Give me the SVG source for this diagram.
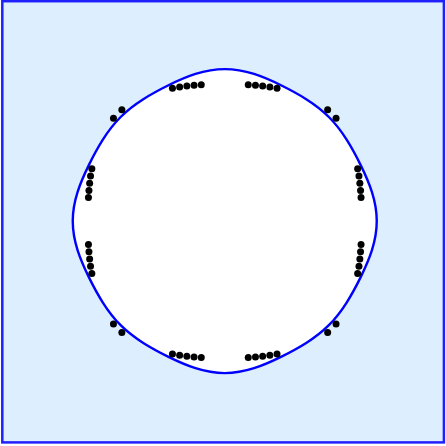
<svg xmlns="http://www.w3.org/2000/svg" width="446" height="446" viewBox="0 0 446 446">
<style>
.frame{fill:#ddeeff;stroke:#2020ff;stroke-width:2.5}
.blob{fill:#ffffff;stroke:#0000ff;stroke-width:2.4}
.dot{fill:#000000}
</style>
<rect id="domain" class="frame" x="2.3" y="1.2" width="441.6" height="441.2"/>
<g id="shape" transform="translate(224.75,221.1)">
<path class="blob" d="M152,0 C152,9.95 150.14,19.85 147.12,29.26 C144.1,38.67 140.07,47.6 135.81,56.25 C131.55,64.9 127.02,73.34 121.89,81.45 C116.76,89.56 110.9,97.28 104.09,104.09 C97.28,110.9 89.56,116.76 81.45,121.89 C73.34,127.02 64.9,131.55 56.25,135.81 C47.6,140.07 38.67,144.1 29.26,147.12 C19.85,150.14 9.95,152 0,152 C-9.95,152 -19.85,150.14 -29.26,147.12 C-38.67,144.1 -47.6,140.07 -56.25,135.81 C-64.9,131.55 -73.34,127.02 -81.45,121.89 C-89.56,116.76 -97.28,110.9 -104.09,104.09 C-110.9,97.28 -116.76,89.56 -121.89,81.45 C-127.02,73.34 -131.55,64.9 -135.81,56.25 C-140.07,47.6 -144.1,38.67 -147.12,29.26 C-150.14,19.85 -152,9.95 -152,0 C-152,-9.95 -150.14,-19.85 -147.12,-29.26 C-144.1,-38.67 -140.07,-47.6 -135.81,-56.25 C-131.55,-64.9 -127.02,-73.34 -121.89,-81.45 C-116.76,-89.56 -110.9,-97.28 -104.09,-104.09 C-97.28,-110.9 -89.56,-116.76 -81.45,-121.89 C-73.34,-127.02 -64.9,-131.55 -56.25,-135.81 C-47.6,-140.07 -38.67,-144.1 -29.26,-147.12 C-19.85,-150.14 -9.95,-152 0,-152 C9.95,-152 19.85,-150.14 29.26,-147.12 C38.67,-144.1 47.6,-140.07 56.25,-135.81 C64.9,-131.55 73.34,-127.02 81.45,-121.89 C89.56,-116.76 97.28,-110.9 104.09,-104.09 C110.9,-97.28 116.76,-89.56 121.89,-81.45 C127.02,-73.34 131.55,-64.9 135.81,-56.25 C140.07,-47.6 144.1,-38.67 147.12,-29.26 C150.14,-19.85 152,-9.95 152,0 Z"/>
</g>
<g id="points" transform="translate(224.75,221.1)">
<g id="top-left">
<circle class="dot" cx="-23.5" cy="-136.3" r="3.5"/><circle class="dot" cx="-30.7" cy="-135.8" r="3.5"/><circle class="dot" cx="-37.9" cy="-135.1" r="3.5"/><circle class="dot" cx="-45.1" cy="-134.2" r="3.5"/><circle class="dot" cx="-52.3" cy="-132.9" r="3.5"/>
</g>
<g id="top-right">
<circle class="dot" cx="23.5" cy="-136.3" r="3.5"/><circle class="dot" cx="30.7" cy="-135.8" r="3.5"/><circle class="dot" cx="37.9" cy="-135.1" r="3.5"/><circle class="dot" cx="45.1" cy="-134.2" r="3.5"/><circle class="dot" cx="52.3" cy="-132.9" r="3.5"/>
</g>
<g id="bottom-left">
<circle class="dot" cx="-23.5" cy="136.3" r="3.5"/><circle class="dot" cx="-30.7" cy="135.8" r="3.5"/><circle class="dot" cx="-37.9" cy="135.1" r="3.5"/><circle class="dot" cx="-45.1" cy="134.2" r="3.5"/><circle class="dot" cx="-52.3" cy="132.9" r="3.5"/>
</g>
<g id="bottom-right">
<circle class="dot" cx="23.5" cy="136.3" r="3.5"/><circle class="dot" cx="30.7" cy="135.8" r="3.5"/><circle class="dot" cx="37.9" cy="135.1" r="3.5"/><circle class="dot" cx="45.1" cy="134.2" r="3.5"/><circle class="dot" cx="52.3" cy="132.9" r="3.5"/>
</g>
<g id="left-upper">
<circle class="dot" cx="-136.3" cy="-23.5" r="3.5"/><circle class="dot" cx="-135.8" cy="-30.7" r="3.5"/><circle class="dot" cx="-135.1" cy="-37.9" r="3.5"/><circle class="dot" cx="-134.2" cy="-45.1" r="3.5"/><circle class="dot" cx="-132.9" cy="-52.3" r="3.5"/>
</g>
<g id="left-lower">
<circle class="dot" cx="-136.3" cy="23.5" r="3.5"/><circle class="dot" cx="-135.8" cy="30.7" r="3.5"/><circle class="dot" cx="-135.1" cy="37.9" r="3.5"/><circle class="dot" cx="-134.2" cy="45.1" r="3.5"/><circle class="dot" cx="-132.9" cy="52.3" r="3.5"/>
</g>
<g id="right-upper">
<circle class="dot" cx="136.3" cy="-23.5" r="3.5"/><circle class="dot" cx="135.8" cy="-30.7" r="3.5"/><circle class="dot" cx="135.1" cy="-37.9" r="3.5"/><circle class="dot" cx="134.2" cy="-45.1" r="3.5"/><circle class="dot" cx="132.9" cy="-52.3" r="3.5"/>
</g>
<g id="right-lower">
<circle class="dot" cx="136.3" cy="23.5" r="3.5"/><circle class="dot" cx="135.8" cy="30.7" r="3.5"/><circle class="dot" cx="135.1" cy="37.9" r="3.5"/><circle class="dot" cx="134.2" cy="45.1" r="3.5"/><circle class="dot" cx="132.9" cy="52.3" r="3.5"/>
</g>
<g id="diagonals">
<circle class="dot" cx="-111.3" cy="-102.9" r="3.5"/><circle class="dot" cx="-102.9" cy="-111.3" r="3.5"/>
<circle class="dot" cx="111.3" cy="-102.9" r="3.5"/><circle class="dot" cx="102.9" cy="-111.3" r="3.5"/>
<circle class="dot" cx="-111.3" cy="102.9" r="3.5"/><circle class="dot" cx="-102.9" cy="111.3" r="3.5"/>
<circle class="dot" cx="111.3" cy="102.9" r="3.5"/><circle class="dot" cx="102.9" cy="111.3" r="3.5"/>
</g>
</g>
</svg>
